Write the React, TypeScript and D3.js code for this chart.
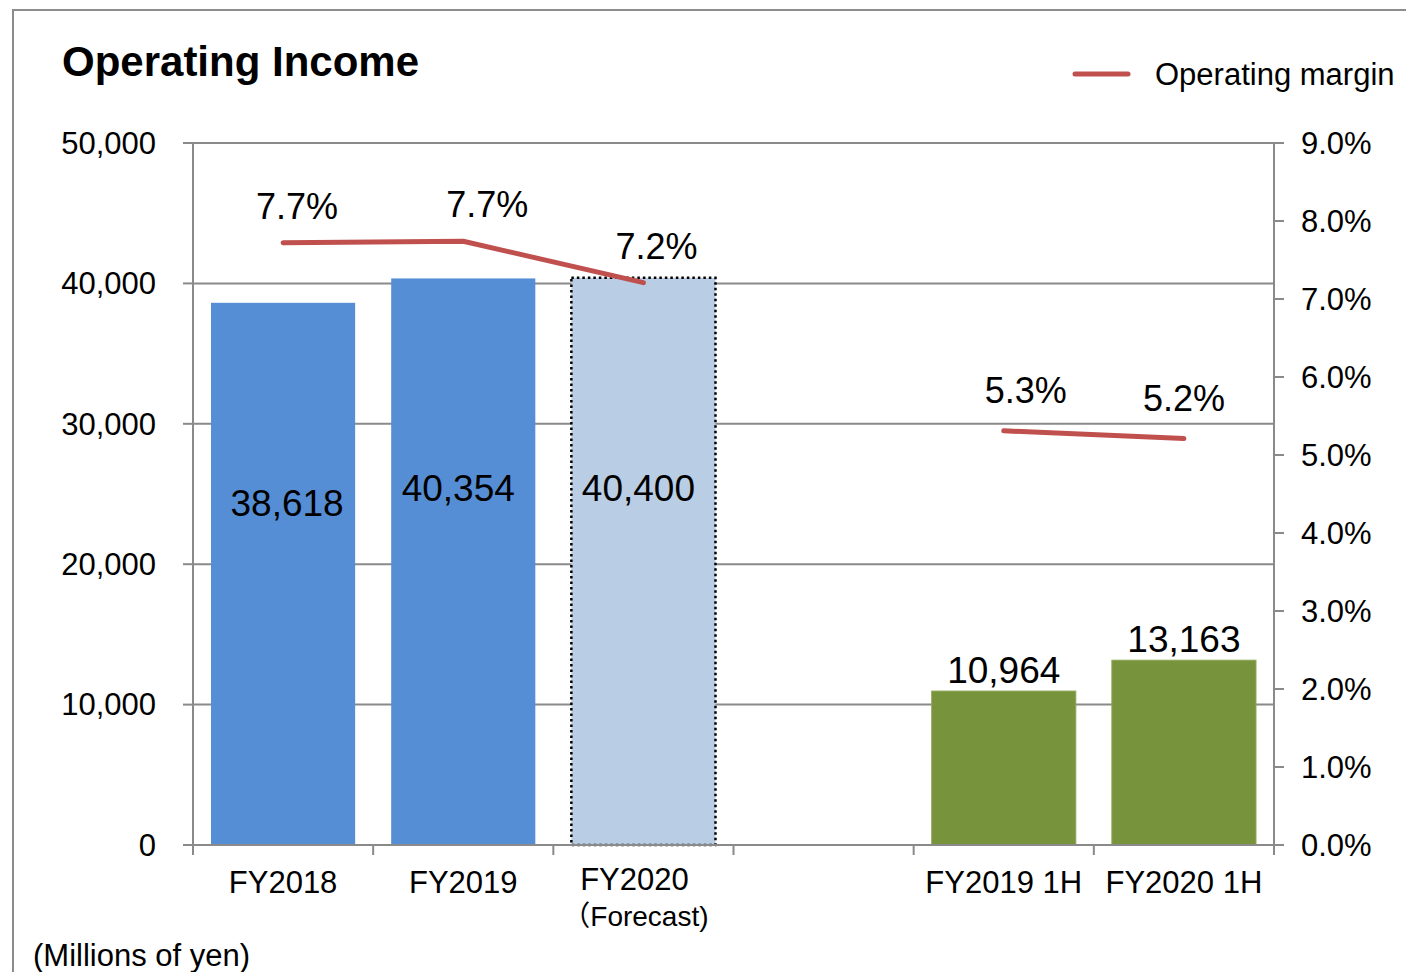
import React from 'react';
import * as d3 from 'd3';

// chart data
const categories = ['FY2018', 'FY2019', 'FY2020', '', 'FY2019 1H', 'FY2020 1H'];
const incomeValues = [38618, 40354, 40400, null, 10964, 13163];
const marginValues = [7.72, 7.74, 7.21, null, 5.31, 5.21];
const barKinds = ['actual', 'actual', 'forecast', null, 'half', 'half'];
const leftTicks = [0, 10000, 20000, 30000, 40000, 50000];
const rightTicks = [0, 1, 2, 3, 4, 5, 6, 7, 8, 9];

const W = 1406;
const H = 972;
const plot = { left: 193, right: 1274, top: 143, bottom: 845 };
const font = 'Arial, "Liberation Sans", "Noto Sans CJK JP", sans-serif';
const gridColor = '#8a8a8a';
const lineColor = '#C0504D';

const fills: Record<string, string> = {
  actual: '#558ED5',
  forecast: '#B9CDE5',
  half: '#77933C',
};

export default function App() {
  const x = d3.scaleBand<string>()
    .domain(categories.map((c, i) => c || 'gap' + i))
    .range([plot.left, plot.right])
    .paddingInner(0.2)
    .paddingOuter(0.1);
  const keys = x.domain();
  const step = x.step();
  const bw = x.bandwidth();
  const y = d3.scaleLinear().domain([0, 50000]).range([plot.bottom, plot.top]);
  const y2 = d3.scaleLinear().domain([0, 9]).range([plot.bottom, plot.top]);
  const cx = (i: number) => (x(keys[i]) as number) + bw / 2;
  const fmt = d3.format(',');

  const pts = marginValues.map((v, i) => ({ v, i }));
  const line = d3.line<{ v: number | null; i: number }>()
    .defined(d => d.v !== null)
    .x(d => cx(d.i))
    .y(d => y2(d.v as number));

  const boundaries = d3.range(categories.length + 1).map(i => plot.left + i * step);

  // small label nudges, like the hand-placed labels in the original
  const valueDx = (i: number) => (i === 0 ? 4 : i < 3 ? -5 : 0);
  const marginDx = (i: number) => (i === 0 ? 14 : i === 1 ? 24 : i === 2 ? 13 : i === 4 ? 22 : 0);

  return (
    <div style={{ position: 'absolute', left: 0, top: 0 }}>
      <svg width={W} height={H} style={{ display: 'block', fontFamily: font }}>
        <rect width={W} height={H} fill="#fff" />
        {/* outer frame */}
        <path d={`M13,${H} V10 H${W}`} fill="none" stroke="#8c8c8c" strokeWidth={2} />

        <text x={62} y={76} fontSize={42} fontWeight="bold" fill="#000">Operating Income</text>

        {/* legend */}
        <line x1={1075} x2={1128} y1={74} y2={74} stroke={lineColor} strokeWidth={5} strokeLinecap="round" />
        <text x={1155} y={85} fontSize={31} fill="#000">Operating margin</text>

        {/* gridlines */}
        {leftTicks.slice(1).map(t => (
          <line key={t} x1={plot.left} x2={plot.right} y1={y(t)} y2={y(t)} stroke={gridColor} strokeWidth={2} />
        ))}

        {/* bars */}
        {incomeValues.map((v, i) => {
          if (v === null) return null;
          const kind = barKinds[i] as string;
          return (
            <rect key={i} x={x(keys[i])} y={y(v)} width={bw} height={y(0) - y(v)}
              fill={fills[kind]}
              stroke={kind === 'forecast' ? '#000' : kind === 'half' ? '#8fa85a' : 'none'}
              strokeWidth={kind === 'forecast' ? 2.5 : 1}
              strokeDasharray={kind === 'forecast' ? '2.5 3' : undefined} />
          );
        })}

        {/* axes */}
        <line x1={plot.left} x2={plot.left} y1={plot.top} y2={plot.bottom} stroke={gridColor} strokeWidth={2} />
        <line x1={plot.right} x2={plot.right} y1={plot.top} y2={plot.bottom + 10} stroke={gridColor} strokeWidth={2} />
        <line x1={plot.left - 10} x2={plot.right} y1={plot.bottom} y2={plot.bottom} stroke={gridColor} strokeWidth={2} />
        {leftTicks.map(t => (
          <g key={t}>
            <line x1={plot.left - 10} x2={plot.left} y1={y(t)} y2={y(t)} stroke={gridColor} strokeWidth={2} />
            <text x={156} y={y(t)} dy="0.35em" textAnchor="end" fontSize={31} fill="#000">{fmt(t)}</text>
          </g>
        ))}
        {rightTicks.map(t => (
          <g key={t}>
            <line x1={plot.right} x2={plot.right + 10} y1={y2(t)} y2={y2(t)} stroke={gridColor} strokeWidth={2} />
            <text x={1301} y={y2(t)} dy="0.35em" fontSize={31} fill="#000">{t.toFixed(1) + '%'}</text>
          </g>
        ))}
        {boundaries.map((b, i) => (
          <line key={i} x1={b} x2={b} y1={plot.bottom} y2={plot.bottom + 10} stroke={gridColor} strokeWidth={2} />
        ))}

        {/* category labels */}
        {categories.map((c, i) => {
          if (!c) return null;
          if (barKinds[i] === 'forecast') {
            return (
              <g key={c}>
                <text x={cx(i) - 9} y={890} textAnchor="middle" fontSize={31} fill="#000">{c}</text>
                <text x={cx(i) - 8} y={926} textAnchor="middle" fontSize={28} fill="#000">（Forecast)</text>
              </g>
            );
          }
          return <text key={c} x={cx(i)} y={893} textAnchor="middle" fontSize={31} fill="#000">{c}</text>;
        })}

        {/* bar value labels */}
        {incomeValues.map((v, i) => {
          if (v === null) return null;
          const inside = barKinds[i] !== 'half';
          return (
            <text key={i} x={cx(i) + valueDx(i)} y={inside ? y(v * 0.63) : y(v) - 8}
              dy={inside ? '0.35em' : 0} textAnchor="middle" fontSize={37} fill="#000">{fmt(v)}</text>
          );
        })}

        {/* margin line */}
        <path d={line(pts) || ''} fill="none" stroke={lineColor} strokeWidth={5} strokeLinecap="round" strokeLinejoin="round" />
        {marginValues.map((v, i) => v === null ? null : (
          <text key={i} x={cx(i) + marginDx(i)} y={y2(v) - (i > 3 ? 28 : 24)}
            textAnchor="middle" fontSize={36} fill="#000">{v.toFixed(1) + '%'}</text>
        ))}

        <text x={33} y={966} fontSize={31} fill="#000">(Millions of yen)</text>
      </svg>
    </div>
  );
}
